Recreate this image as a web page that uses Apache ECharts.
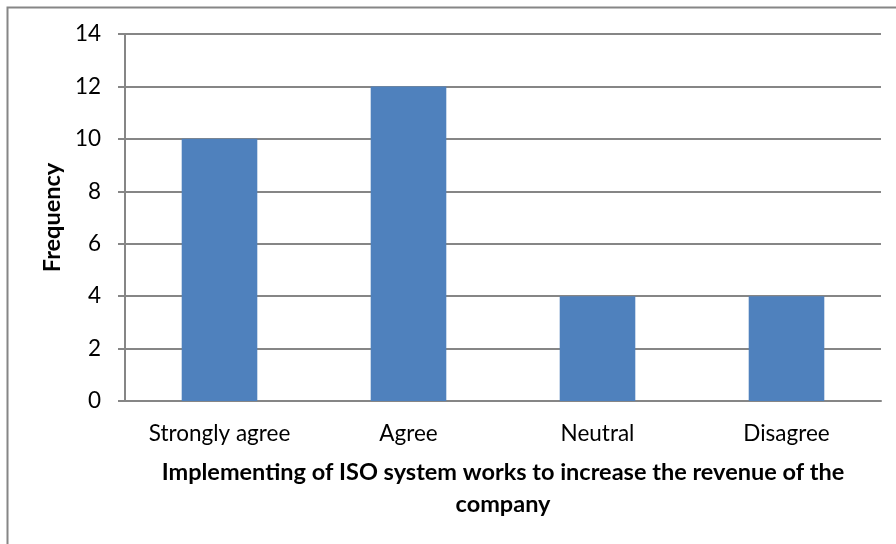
<!DOCTYPE html>
<html><head><meta charset="utf-8">
<script src="https://cdn.jsdelivr.net/npm/echarts@6/dist/echarts.min.js"></script>
<style>html,body{margin:0;padding:0;background:#fff}#c{width:896px;height:544px}</style>
</head><body><div id="c"></div>
<script>
const categories = ['Strongly agree', 'Agree', 'Neutral', 'Disagree'];
const frequency = [10, 12, 4, 4];
const yTicks = [0, 2, 4, 6, 8, 10, 12, 14];
const xTitle = 'Implementing of ISO system works to increase the revenue of the\ncompany';
const yTitle = 'Frequency';

const FONT = 'Lato';
const chart = echarts.init(document.getElementById('c'), null, {renderer: 'canvas'});
chart.setOption({
  animation: false,
  backgroundColor: '#fff',
  graphic: [{type: 'rect', shape: {x: 7.5, y: 7.5, width: 900, height: 560}, style: {fill: 'none', stroke: '#868686', lineWidth: 2}, silent: true, z: -1}],
  grid: {left: 125, right: 15, top: 34, bottom: 143, containLabel: false},
  xAxis: {
    type: 'category', data: categories,
    axisLine: {lineStyle: {color: '#868686', width: 2}},
    axisTick: {show: false},
    axisLabel: {color: '#000', fontFamily: FONT, fontSize: 22.5, margin: 21},
    name: xTitle, nameLocation: 'middle', nameGap: 55,
    nameTextStyle: {color: '#000', fontFamily: FONT, fontSize: 23.5, fontWeight: 'bold', lineHeight: 32, verticalAlign: 'top'}
  },
  yAxis: {
    type: 'value', min: yTicks[0], max: yTicks[yTicks.length - 1], interval: 2,
    axisLine: {show: true, lineStyle: {color: '#868686', width: 2}},
    axisTick: {show: true, length: 7, lineStyle: {color: '#868686', width: 2}},
    splitLine: {lineStyle: {color: '#868686', width: 2}},
    axisLabel: {color: '#000', fontFamily: FONT, fontSize: 22.5, margin: 24},
    name: yTitle, nameLocation: 'middle', nameGap: 53, nameRotate: 90,
    nameTextStyle: {color: '#000', fontFamily: FONT, fontSize: 23.5, fontWeight: 'bold'}
  },
  series: [{
    type: 'bar', data: frequency, barWidth: '40%',
    itemStyle: {color: '#4F81BD'}
  }]
});
</script></body></html>
